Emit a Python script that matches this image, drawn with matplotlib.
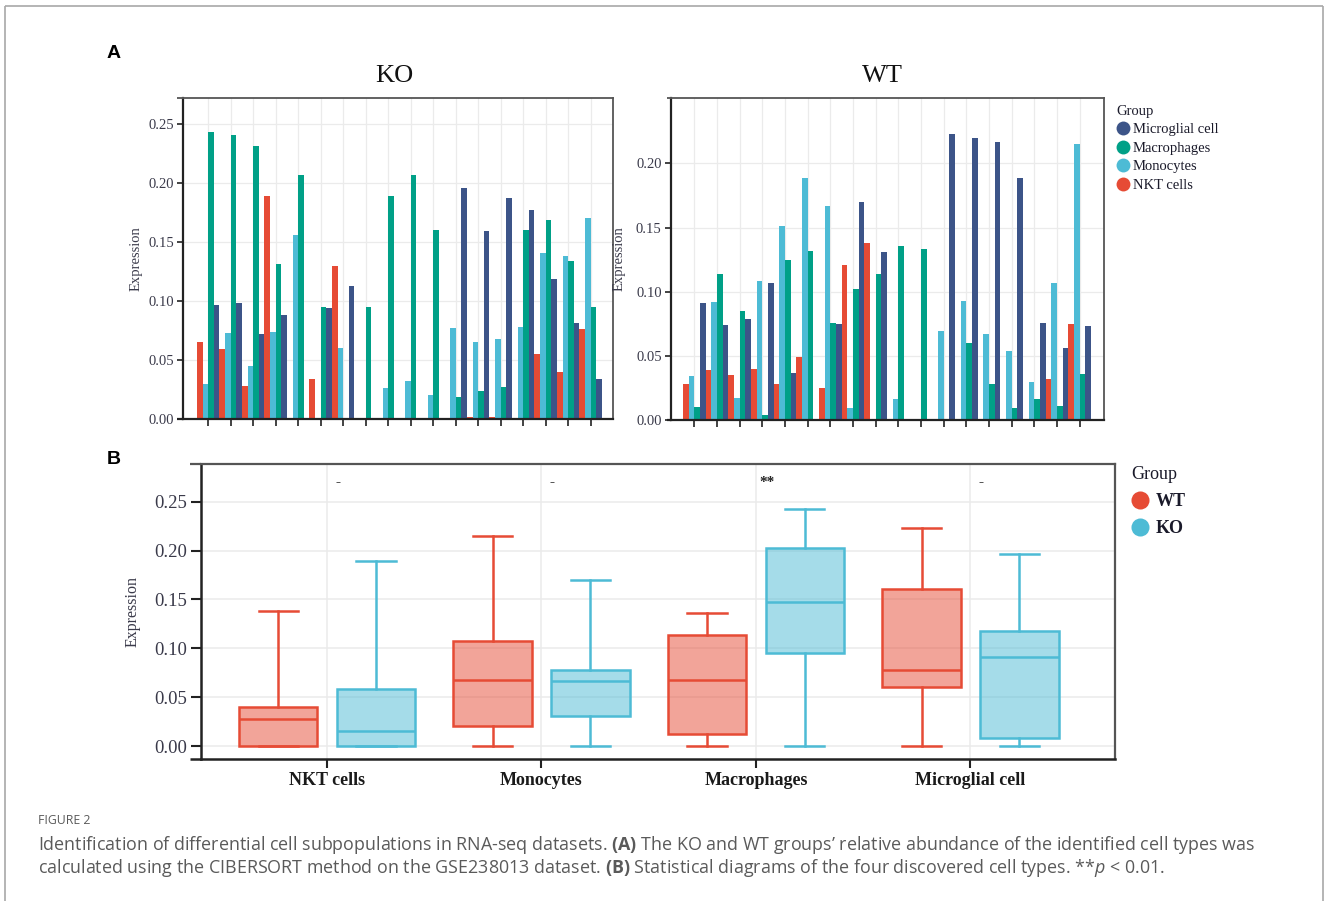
import numpy as np
import matplotlib
matplotlib.use('Agg')
import matplotlib.pyplot as plt
from matplotlib.lines import Line2D

# ---------------- data ----------------
groups = ['Microglial cell', 'Macrophages', 'Monocytes', 'NKT cells']   # legend order
bar_order = ['NKT cells', 'Monocytes', 'Macrophages', 'Microglial cell']  # left->right in each sample
cell_colors = {'NKT cells': '#E64B35', 'Monocytes': '#4DBBD5',
               'Macrophages': '#00A087', 'Microglial cell': '#3C5488'}

ko_nkt = [0.065, 0.059, 0.028, 0.189, 0.0, 0.034, 0.130, 0.0, 0.0, 0.0, 0.0, 0.0, 0.002, 0.002, 0.0, 0.055, 0.040, 0.076]
ko_mono = [0.030, 0.073, 0.045, 0.074, 0.156, 0.0, 0.060, 0.0, 0.026, 0.032, 0.020, 0.077, 0.065, 0.068, 0.078, 0.141, 0.138, 0.170]
ko_macro = [0.243, 0.241, 0.231, 0.131, 0.207, 0.095, 0.0, 0.095, 0.189, 0.207, 0.160, 0.019, 0.024, 0.027, 0.160, 0.169, 0.134, 0.095]
ko_micro = [0.097, 0.098, 0.072, 0.088, 0.0, 0.094, 0.113, 0.0, 0.0, 0.0, 0.0, 0.196, 0.159, 0.187, 0.177, 0.119, 0.081, 0.034]

wt_nkt = [0.028, 0.039, 0.035, 0.040, 0.028, 0.049, 0.025, 0.121, 0.138, 0.0, 0.0, 0.0, 0.0, 0.0, 0.0, 0.0, 0.032, 0.075]
wt_mono = [0.034, 0.092, 0.017, 0.108, 0.151, 0.189, 0.167, 0.009, 0.0, 0.016, 0.0, 0.069, 0.093, 0.067, 0.054, 0.030, 0.107, 0.215]
wt_macro = [0.010, 0.114, 0.085, 0.004, 0.125, 0.132, 0.076, 0.102, 0.114, 0.136, 0.133, 0.0, 0.060, 0.028, 0.009, 0.016, 0.011, 0.036]
wt_micro = [0.091, 0.074, 0.079, 0.107, 0.037, 0.0, 0.075, 0.170, 0.131, 0.0, 0.0, 0.223, 0.220, 0.217, 0.189, 0.076, 0.056, 0.073]

ko_data = {'NKT cells': ko_nkt, 'Monocytes': ko_mono, 'Macrophages': ko_macro, 'Microglial cell': ko_micro}
wt_data = {'NKT cells': wt_nkt, 'Monocytes': wt_mono, 'Macrophages': wt_macro, 'Microglial cell': wt_micro}

box_categories = ['NKT cells', 'Monocytes', 'Macrophages', 'Microglial cell']
sig_labels = ['-', '-', '**', '-']
box_groups = ['WT', 'KO']
box_colors = {'WT': '#E64B35', 'KO': '#4DBBD5'}

caption_title = 'FIGURE 2'
caption_l1 = (r'Identification of differential cell subpopulations in RNA-seq datasets. $\mathbf{(A)}$ '
              r'The KO and WT groups’ relative abundance of the identified cell types was')
caption_l2 = (r'calculated using the CIBERSORT method on the GSE238013 dataset. $\mathbf{(B)}$ '
              r'Statistical diagrams of the four discovered cell types. **$\mathit{p}$ < 0.01.')

# ---------------- style ----------------
SERIF = ['Liberation Serif', 'DejaVu Serif']
plt.rcParams['mathtext.fontset'] = 'custom'
plt.rcParams['mathtext.rm'] = 'Open Sans'
plt.rcParams['mathtext.bf'] = 'Open Sans:bold'
plt.rcParams['mathtext.it'] = 'Open Sans:italic'

W, H = 1328, 901
fig = plt.figure(figsize=(W / 100, H / 100), dpi=100)


def fr(l, t, r, b):
    return [l / W, 1 - b / H, (r - l) / W, (b - t) / H]


def fline(x0, x1, y0, y1, color, lw):
    fig.add_artist(Line2D([x0 / W, x1 / W], [1 - y0 / H, 1 - y1 / H],
                          transform=fig.transFigure, color=color, lw=lw,
                          solid_capstyle='butt'))


GRID = '#EBEBEB'
TICKC = '#3a3a4a'

# outer border
fline(4.5, 4.5, 5.5, 905, '#a8a8a8', 1.2)
fline(4.5, 1322.5, 5.5, 5.5, '#a8a8a8', 1.2)
fline(1322.5, 1322.5, 5.5, 905, '#a8a8a8', 1.2)

# panel letters
fig.text(107 / W, 1 - 53 / H, 'A', fontsize=14, fontweight='bold',
         family='Liberation Sans', ha='left', va='center')
fig.text(107 / W, 1 - 460 / H, 'B', fontsize=14, fontweight='bold',
         family='Liberation Sans', ha='left', va='center')


# ---------------- panel A ----------------
def bar_panel(rect, data, title, title_x, ylim, yticks, xlim, ylabel_x, ext):
    ax = fig.add_axes(fr(*rect))
    n = len(data['NKT cells'])
    x = np.arange(n)
    width = 0.25
    for k, name in enumerate(bar_order):
        ax.bar(x + (k - 1.5) * width, data[name], width=width, color=cell_colors[name],
               linewidth=0, zorder=2)
    ax.set_xlim(*xlim)
    ax.set_ylim(*ylim)
    ax.set_xticks(x)
    ax.set_xticklabels([])
    ax.set_yticks(yticks)
    ax.set_yticklabels(['%.2f' % v for v in yticks], family=SERIF, fontsize=10.5, color=TICKC)
    ax.tick_params(axis='x', length=5, width=1.2, color='#222222')
    ax.tick_params(axis='y', length=4.5, width=1.2, color='#222222', pad=2)
    ax.grid(True, color=GRID, lw=0.9)
    ax.set_axisbelow(True)
    ax.spines['left'].set_color('#222222'); ax.spines['left'].set_linewidth(1.6)
    ax.spines['bottom'].set_color('#222222'); ax.spines['bottom'].set_linewidth(1.6)
    ax.spines['top'].set_color('#555555'); ax.spines['top'].set_linewidth(1.3)
    ax.spines['right'].set_color('#555555'); ax.spines['right'].set_linewidth(1.3)
    ax.set_ylabel('Expression', family=SERIF, fontsize=10.5, color=TICKC)
    ax.yaxis.set_label_coords(ylabel_x, 0.5)
    l, t, r, b = rect
    fline(l - ext, l, t, t, '#555555', 1.3)
    fline(l - ext, l, b, b, '#222222', 1.6)
    fig.text(title_x / W, 1 - 76 / H, title, family=SERIF, fontsize=19,
             ha='center', va='center', color='#111111')
    return ax


bar_panel((183, 98, 613, 419), ko_data, 'KO', 394, (0, 0.272),
          [0, 0.05, 0.10, 0.15, 0.20, 0.25], (-1.12, 17.99), -0.094, 6)
bar_panel((670.7, 98, 1104, 420), wt_data, 'WT', 882, (0, 0.251),
          [0, 0.05, 0.10, 0.15, 0.20], (-1.04, 18.07), -0.104, 4)

handles_a = [Line2D([], [], ls='none', marker='o', markersize=10,
                    markerfacecolor=cell_colors[g], markeredgewidth=0) for g in groups]
leg_a = fig.legend(handles_a, groups, title='Group', loc='upper left',
                   bbox_to_anchor=(1116 / W, 1 - 105 / H), frameon=False,
                   prop=dict(family=SERIF, size=10.5), title_fontproperties=dict(family=SERIF, size=10.5),
                   alignment='left', handletextpad=0.25, labelspacing=0.36, handlelength=0.9,
                   borderpad=0, borderaxespad=0)
for t in leg_a.get_texts() + [leg_a.get_title()]:
    t.set_color('#1a1a2a')
    t.set_fontfamily(SERIF)

# ---------------- panel B ----------------
rectB = (200.7, 464, 1115, 759)
axb = fig.add_axes(fr(*rectB))
pos = np.arange(len(box_categories))
off = 0.228
bw = 0.366
for gi, grp in enumerate(box_groups):
    src = wt_data if grp == 'WT' else ko_data
    vals = [src[c] for c in box_categories]
    col = box_colors[grp]
    axb.boxplot(vals, positions=pos + (gi - 0.5) * 2 * off, widths=bw, whis=(0, 100),
                patch_artist=True, showfliers=False, manage_ticks=False,
                boxprops=dict(facecolor=matplotlib.colors.to_rgba(col, 0.5), edgecolor=col, linewidth=1.8),
                medianprops=dict(color=col, linewidth=1.8),
                whiskerprops=dict(color=col, linewidth=1.8),
                capprops=dict(color=col, linewidth=1.8),
                capwidths=bw / 2, zorder=3)
axb.set_xlim(-0.589, 3.674)
axb.set_ylim(-0.0133, 0.2886)
axb.set_xticks(pos)
axb.set_xticklabels(box_categories, family=SERIF, fontsize=13, fontweight='bold', color='#1a1a1a')
yt = [0, 0.05, 0.10, 0.15, 0.20, 0.25]
axb.set_yticks(yt)
axb.set_yticklabels(['%.2f' % v for v in yt], family=SERIF, fontsize=13.5, color=TICKC)
axb.tick_params(axis='x', length=6.5, width=1.5, color='#222222', pad=3)
axb.tick_params(axis='y', length=7, width=1.5, color='#222222', pad=3)
axb.grid(True, color=GRID, lw=1.1)
axb.set_axisbelow(True)
for s in ['left', 'bottom']:
    axb.spines[s].set_color('#222222'); axb.spines[s].set_linewidth(1.8)
for s in ['top', 'right']:
    axb.spines[s].set_color('#555555'); axb.spines[s].set_linewidth(1.6)
axb.set_ylabel('Expression', family=SERIF, fontsize=11.5, color=TICKC)
axb.yaxis.set_label_coords(-0.066, 0.5)
fline(190, 200.7, 464, 464, '#555555', 1.6)
fline(190, 200.7, 759, 759, '#222222', 1.8)
for i, lab in enumerate(sig_labels):
    axb.text(pos[i] + 0.05, 0.27, lab, ha='center', va='center', family=SERIF,
             fontsize=11, fontweight='bold', color='#222222')

handles_b = [Line2D([], [], ls='none', marker='o', markersize=13,
                    markerfacecolor=box_colors[g], markeredgewidth=0) for g in box_groups]
leg_b = fig.legend(handles_b, box_groups, title='Group', loc='upper left',
                   bbox_to_anchor=(1131 / W, 1 - 466 / H), frameon=False,
                   prop=dict(family=SERIF, size=13, weight='bold'),
                   title_fontproperties=dict(family=SERIF, size=13),
                   alignment='left', handletextpad=0.4, labelspacing=0.55, handlelength=0.95,
                   borderpad=0, borderaxespad=0)
for t in leg_b.get_texts() + [leg_b.get_title()]:
    t.set_fontfamily(SERIF)
    t.set_color('#1a1a2a')

# ---------------- caption ----------------
CAPC = '#5a5a5a'
fig.text(38 / W, 1 - 821 / H, caption_title, family='Open Sans', fontsize=8.8,
         color=CAPC, ha='left', va='center')
t1 = fig.text(38 / W, 1 - 845 / H, caption_l1, family='Open Sans', fontsize=12,
              color=CAPC, ha='left', va='center')
t2 = fig.text(38 / W, 1 - 868 / H, caption_l2, family='Open Sans', fontsize=12,
              color=CAPC, ha='left', va='center')
fig.canvas.draw()
rend = fig.canvas.get_renderer()
w1 = t1.get_window_extent(rend).width
scale = (1255 - 38) / w1
t1.set_fontsize(12 * scale)
t2.set_fontsize(12 * scale)

fig.savefig('out.png', dpi=100)
